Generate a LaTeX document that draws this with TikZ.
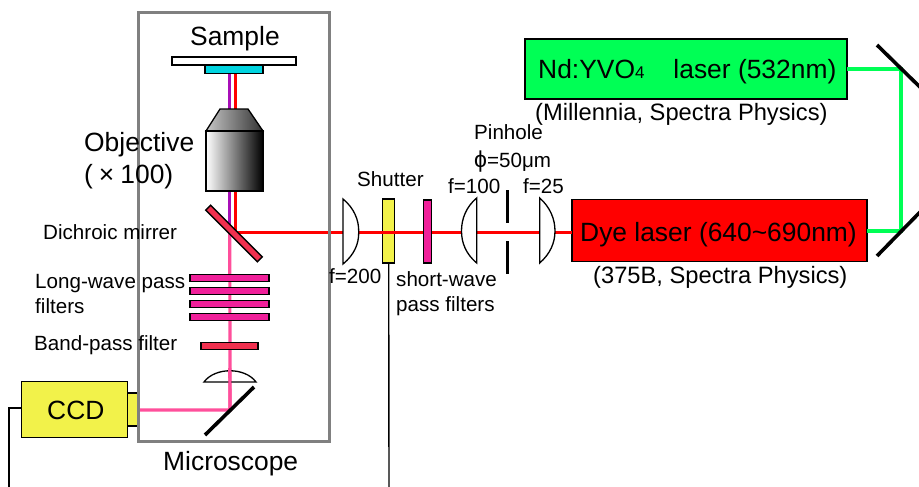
\documentclass[tikz,border=0pt]{standalone}
\usepackage{fontspec}
\setmainfont{Liberation Sans}
\usetikzlibrary{calc}
\definecolor{gframe}{gray}{0.5}
\definecolor{lpink}{HTML}{FF4F9B}
\definecolor{fpink}{HTML}{F0209A}
\definecolor{bpf}{HTML}{F0304F}
\definecolor{ccdy}{HTML}{F2F24A}
\definecolor{lgreen}{HTML}{00FF55}
\definecolor{beamv}{HTML}{A80FB8}
\definecolor{cy}{HTML}{00D4E0}
\tikzset{
  x=1pt,y=-1pt,
  big/.style={font=\fontsize{26.4}{30}\selectfont,inner sep=0pt,anchor=base west,text=black},
  small/.style={font=\fontsize{20.6}{24}\selectfont,inner sep=0pt,anchor=base west,text=black},
  mid/.style={font=\fontsize{23.7}{27}\selectfont,inner sep=0pt,anchor=base west,text=black},
  part/.style={draw=black,line width=1.4pt,inner sep=0pt,outer sep=0pt,text=black},
  lens/.style={draw=black,line width=1.3pt,fill=white},
  redbeam/.style={draw=red,line width=3pt},
  pinkbeam/.style={draw=lpink,line width=3.2pt},
  greenbeam/.style={draw=lgreen,line width=3.4pt},
  blackbar/.style={draw=black,line width=3.6pt},
  wire/.style={draw=black,line width=1.4pt}
}
\begin{document}
\begin{tikzpicture}
\useasboundingbox (0,0) rectangle (919,487);
\begin{scope}
\clip (0,0) rectangle (919,487);
% anchors
\coordinate (sampleR) at (235.5,73);
\coordinate (sampleV) at (229.5,73);
\coordinate (dichR) at (235.5,232);
\coordinate (dichV) at (229.5,232);
\coordinate (foldP) at (230,410);
\coordinate (frameL) at (139,410);
\coordinate (wireC) at (9,408);
\coordinate (wireCe) at (9,487);
\coordinate (wireS) at (389,487);
\coordinate (gCorner) at (901,69);
\coordinate (gCorner2) at (901,231);
% lasers and parts
\node[part,fill=lgreen,minimum width=322,minimum height=60] (green) at (686,69) {};
\node[part,fill=red,minimum width=295,minimum height=62] (dye) at (719.5,230.5) {};
\node[part,fill=ccdy,minimum width=106,minimum height=56] (ccd) at (74.5,409.5) {};
\node[part,fill=ccdy,minimum width=10,minimum height=33] (ccdn) at (132.5,409.5) {};
\node[part,fill=ccdy,minimum width=12,minimum height=64] (shut) at (388.7,231) {};
% beams
\draw[redbeam] (sampleR) -- (dichR) -- (dye.west|-dichR);
\draw[draw=beamv,line width=3pt] (sampleV) -- (dichV);
\draw[pinkbeam] (229.8,233) -- (foldP) -- (frameL);
\draw[greenbeam] (green.east) -- (gCorner) -- (gCorner2) -- (dye.east|-gCorner2);
% wires
\draw[wire] (ccd.west|-wireC) -- (wireC) -- (wireCe);
\draw[wire] (shut.south) -- (wireS);
% microscope frame
\node[draw=gframe,line width=3pt,minimum width=190.5,minimum height=428.5,inner sep=0pt] (frame) at (233.75,227.25) {};
% sample
\node[part,fill=white,minimum width=124,minimum height=8] (plate) at (234,61) {};
\node[part,fill=cy,minimum width=58,minimum height=8.5] (samp) at (234,69.2) {};
% objective
\path[shade,left color=gray!45!white,right color=black!80!white] (220,109) -- (248,109) -- (263,131) -- (206,131) -- cycle;
\draw[black,line width=1.3pt] (220,109) -- (248,109) -- (263,131) -- (206,131) -- cycle;
\node[part,left color=white,right color=black,minimum width=57,minimum height=60] (obj) at (234.5,161) {};
% dichroic
\node[part,fill=bpf,minimum width=73,minimum height=7,rotate=-45] (dich) at (234,233.5) {};
% filters
\foreach \yy/\nn in {278/a,291/b,304/c,317/d}{
  \node[part,fill=fpink,minimum width=79,minimum height=6.5] (lw\nn) at (229.5,\yy) {};
}
\node[part,fill=bpf,minimum width=57,minimum height=6.5] (bp) at (229.5,346) {};
% tube lens
\draw[lens,fill=none] (204,382) .. controls (215,367) and (245,367) .. (256,382) -- cycle;
\draw[pinkbeam] (229.8,368) -- (foldP);
\draw[blackbar] (205,435) -- (254,387);
% lenses in the excitation path
\draw[lens] (343,199) .. controls (354,208) and (359,220) .. (358.7,232) .. controls (359,244) and (354,255) .. (343,264) -- cycle;
\draw[lens] (476.7,198) .. controls (466,207) and (461.5,219) .. (461.5,231) .. controls (461.5,243) and (466,254) .. (476.7,263) -- cycle;
\draw[lens] (539.7,198) .. controls (550,207) and (555,219) .. (555,231) .. controls (555,243) and (550,254) .. (539.7,263) -- cycle;
\node[part,fill=fpink,minimum width=7.5,minimum height=63] (sw) at (427.5,231.5) {};
\draw[blackbar] (507.5,190) -- (507.5,223);
\draw[blackbar] (507.5,241) -- (507.5,274);
% steering mirrors
\draw[blackbar] (877,45) -- (925,92);
\draw[blackbar] (877,256) -- (925,207);
% labels
\node[big] (t1) at (190,46) {Sample};
\node[big] (t2) at (84,151) {Objective};
\node[big] (t3) at (84,183) {(\hspace{6pt}×\hspace{6pt}100)};
\node[small] (t4) at (43,239) {Dichroic mirrer};
\node[small] (t5) at (35,288) {Long-wave pass};
\node[small] (t6) at (35,313) {filters};
\node[small] (t7) at (34,350) {Band-pass filter};
\node[big] (t8) at (47,419) {CCD};
\node[big] (t9) at (163,470) {Microscope};
\node[small] (t10) at (357,186) {Shutter};
\node[small] (t11) at (329,283) {f=200};
\node[small] (t12) at (396,286) {short-wave};
\node[small] (t13) at (396,311) {pass filters};
\node[small] (t14) at (448,193) {f=100};
\node[small] (t15) at (474,139.5) {Pinhole};
\node[small] (t16) at (474,167) {{\fontsize{23}{24}\selectfont ϕ}=50μm};
\node[small] (t17) at (523,193) {f=25};
\node[big] (t18) at (580,241) {Dye laser (640\char`\~690nm)};
\node[mid] (t19) at (593,283) {(375B, Spectra Physics)};
\node[big] (t20) at (538,79) {Nd:YVO{\fontsize{17}{20}\selectfont 4}\hspace{29pt}laser (532nm)};
\node[mid] (t21) at (535,121) {(Millennia, Spectra Physics)};
\end{scope}
\end{tikzpicture}
\end{document}
